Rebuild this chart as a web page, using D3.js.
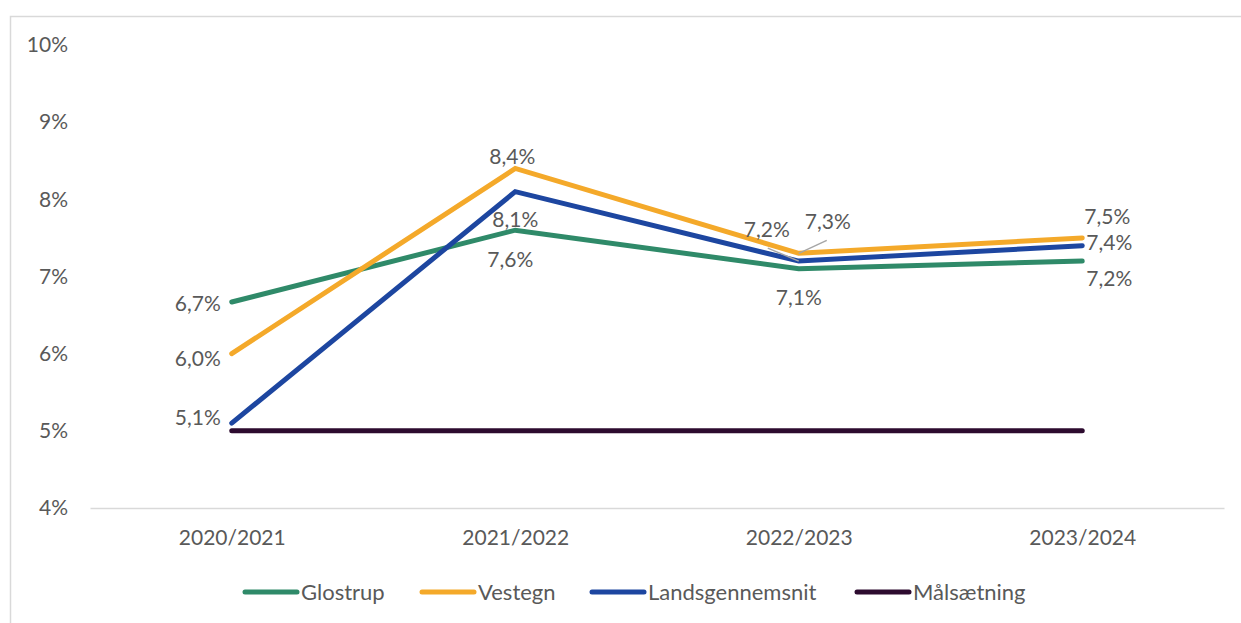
<!DOCTYPE html>
<html>
<head>
<meta charset="utf-8">
<script src="https://cdn.jsdelivr.net/npm/d3@7"></script>
<style>
  body { margin: 0; background: #fff; }
  text { font-family: Lato, "Open Sans", sans-serif; fill: #595959; }
</style>
</head>
<body>
<div id="chart"></div>
<script>
const categories = ["2020/2021", "2021/2022", "2022/2023", "2023/2024"];
const glostrup = [6.67, 7.6, 7.1, 7.2];
const vestegn = [6.0, 8.4, 7.3, 7.5];
const landsgennemsnit = [5.1, 8.1, 7.2, 7.4];
const maalsaetning = [5, 5, 5, 5];
const yTicks = [4, 5, 6, 7, 8, 9, 10];

const series = [
  {name: "Glostrup", values: glostrup, color: "#2f8a69"},
  {name: "Vestegn", values: vestegn, color: "#f4a92a"},
  {name: "Landsgennemsnit", values: landsgennemsnit, color: "#1d46a0"},
  {name: "Målsætning", values: maalsaetning, color: "#2d0b2f"}
];

// label offsets (dx, dy) relative to each point, per series
const labelOffsets = {
  "Glostrup": [[-34, 9], [-5, 37], [0, 36], [27, 25]],
  "Vestegn": [[-34, 12], [-3, -4], [29, -24], [25, -14]],
  "Landsgennemsnit": [[-34, 2], [0, 35], [-32, -24], [27, 4]]
};
// leader lines for crowded labels: [series, index, x-offset, y-offset of far end]
const leaders = [
  ["Landsgennemsnit", 2, -31, -13],
  ["Vestegn", 2, 28, -13]
];

const width = 1241, height = 623;
const margin = {top: 45, right: 17, bottom: 115, left: 90};
const fontSize = "21px";

const svg = d3.select("#chart").append("svg")
  .attr("width", width)
  .attr("height", height);

// chart frame
svg.append("rect")
  .attr("x", 10.5).attr("y", 16.5)
  .attr("width", width + 20).attr("height", height + 20)
  .attr("fill", "none")
  .attr("stroke", "#d9d9d9")
  .attr("stroke-width", 1.5);

const x = d3.scalePoint()
  .domain(categories)
  .range([margin.left, width - margin.right])
  .padding(0.5);

const y = d3.scaleLinear()
  .domain([4, 10])
  .range([height - margin.bottom, margin.top]);

// x axis
svg.append("g")
  .attr("transform", `translate(0,${y(4)})`)
  .call(d3.axisBottom(x).tickSize(0).tickPadding(22))
  .call(g => g.select(".domain").attr("stroke", "#d9d9d9").attr("stroke-width", 1.5))
  .call(g => g.selectAll("text").style("font-size", fontSize).attr("fill", "#595959"));

// y axis
svg.append("g")
  .attr("transform", `translate(${margin.left},0)`)
  .call(d3.axisLeft(y).tickValues(yTicks).tickSize(0).tickPadding(22).tickFormat(d => d + "%"))
  .call(g => g.select(".domain").remove())
  .call(g => g.selectAll("text").style("font-size", fontSize).attr("fill", "#595959"));

const line = d3.line()
  .x((d, i) => x(categories[i]))
  .y(d => y(d));

// draw target first so others sit on top of it
[series[3], series[0], series[1], series[2]].forEach(s => {
  svg.append("path")
    .attr("fill", "none")
    .attr("stroke", s.color)
    .attr("stroke-width", 5)
    .attr("stroke-linecap", "round")
    .attr("stroke-linejoin", "miter")
    .attr("d", line(s.values));
});

const fmt = v => d3.format(".1f")(v).replace(".", ",") + "%";

leaders.forEach(([name, i, dx, dy]) => {
  const s = series.find(d => d.name === name);
  svg.append("line")
    .attr("x1", x(categories[i])).attr("y1", y(s.values[i]))
    .attr("x2", x(categories[i]) + dx).attr("y2", y(s.values[i]) + dy)
    .attr("stroke", "#a6a6a6")
    .attr("stroke-width", 1.5);
});

series.slice(0, 3).forEach(s => {
  svg.append("g").selectAll("text")
    .data(s.values)
    .join("text")
    .attr("x", (d, i) => x(categories[i]) + labelOffsets[s.name][i][0])
    .attr("y", (d, i) => y(d) + labelOffsets[s.name][i][1])
    .attr("text-anchor", "middle")
    .style("font-size", fontSize)
    .text(d => fmt(d));
});

// legend
const legendX = [243, 420, 590, 855];
const legend = svg.append("g").attr("transform", "translate(0,592)");
series.forEach((s, i) => {
  const g = legend.append("g").attr("transform", `translate(${legendX[i]},0)`);
  g.append("line")
    .attr("x1", 2).attr("x2", 54)
    .attr("stroke", s.color)
    .attr("stroke-width", 5)
    .attr("stroke-linecap", "round");
  g.append("text")
    .attr("x", 58).attr("y", 8)
    .style("font-size", "22px")
    .text(s.name);
});
</script>
</body>
</html>
